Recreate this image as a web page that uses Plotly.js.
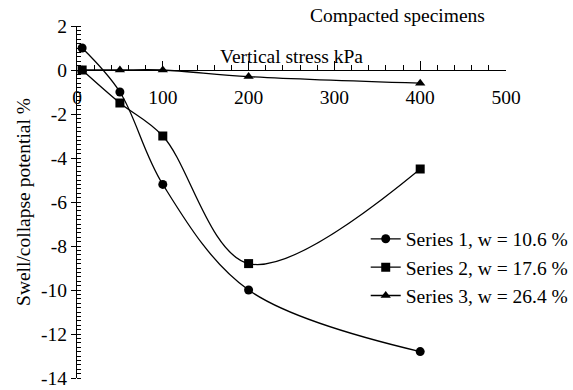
<!DOCTYPE html>
<html>
<head>
<meta charset="utf-8">
<script src="https://cdn.plot.ly/plotly-3.0.1.min.js"></script>
<style>html,body{margin:0;padding:0;background:#fff;}#chart{width:573px;height:390px;}</style>
</head>
<body>
<div id="chart"></div>
<script>
// Data
const stress = [6, 50, 100, 200, 400];
const series1 = [1.0, -1.0, -5.2, -10.0, -12.8];
const series2 = [0.0, -1.5, -3.0, -8.8, -4.5];
const series3 = [0.0, 0.0, 0.0, -0.3, -0.6];
const seriesNames = ["Series 1, w = 10.6 %", "Series 2, w = 17.6 %", "Series 3, w = 26.4 %"];
const xTicks = [0, 100, 200, 300, 400, 500];
const yTicks = [-14, -12, -10, -8, -6, -4, -2, 0, 2];

const FONT = "Times New Roman, Times, Liberation Serif, DejaVu Serif, serif";
const FS = 19.5;
const lineStyle = {color: "#000", width: 1.3, shape: "spline", smoothing: 1};

const traces = [
  {x: stress, y: series1, name: seriesNames[0], mode: "lines+markers", line: lineStyle,
   marker: {symbol: "circle", size: 9, color: "#000"}},
  {x: stress, y: series2, name: seriesNames[1], mode: "lines+markers", line: lineStyle,
   marker: {symbol: "square", size: 9, color: "#000"}},
  {x: stress, y: series3, name: seriesNames[2], mode: "lines+markers", line: lineStyle,
   marker: {symbol: "triangle-up", size: 9, color: "#000"}}
];

const yr = [-14, 2];
const layout = {
  width: 573, height: 390,
  margin: {l: 77, r: 67, t: 26, b: 12, autoexpand: false},
  paper_bgcolor: "#fff", plot_bgcolor: "#fff",
  font: {family: FONT, size: FS, color: "#000"},
  showlegend: true,
  legend: {x: 0.673, y: 0.45, xanchor: "left", yanchor: "top", bgcolor: "rgba(0,0,0,0)",
           font: {family: FONT, size: FS, color: "#000"}, tracegroupgap: 0, itemwidth: 30},
  xaxis: {
    range: [0, 500], tickvals: xTicks, ticktext: xTicks.map(String),
    anchor: "free", position: (0 - yr[0]) / (yr[1] - yr[0]),
    showline: true, linecolor: "#000", linewidth: 1,
    ticks: "inside", ticklen: 9, tickcolor: "#000", tickwidth: 1,
    minor: {dtick: 20, ticks: "inside", ticklen: 5, tickcolor: "#000", tickwidth: 1},
    ticklabelstandoff: 10,
    showgrid: false, zeroline: false,
    tickfont: {family: FONT, size: FS, color: "#000"}
  },
  yaxis: {
    range: yr, tickvals: yTicks, ticktext: yTicks.map(String),
    showline: true, linecolor: "#000", linewidth: 1,
    ticks: "outside", ticklen: 5, tickcolor: "#000", tickwidth: 1,
    minor: {dtick: 0.2, ticks: "inside", ticklen: 4, tickcolor: "#000", tickwidth: 1},
    showgrid: false, zeroline: false,
    tickfont: {family: FONT, size: FS, color: "#000"},
    title: {text: "Swell/collapse potential %", font: {family: FONT, size: FS, color: "#000"}, standoff: 5}
  },
  annotations: [
    {text: "Vertical stress kPa", xref: "x", yref: "y", x: 250, y: 0.05, xanchor: "center", yanchor: "bottom",
     showarrow: false, font: {family: FONT, size: FS, color: "#000"}},
    {text: "Compacted specimens", xref: "x", yref: "paper", x: 374, y: 1.03, xanchor: "center", yanchor: "middle",
     showarrow: false, font: {family: FONT, size: FS, color: "#000"}}
  ]
};

Plotly.newPlot("chart", traces, layout, {displayModeBar: false, staticPlot: true});
</script>
</body>
</html>
